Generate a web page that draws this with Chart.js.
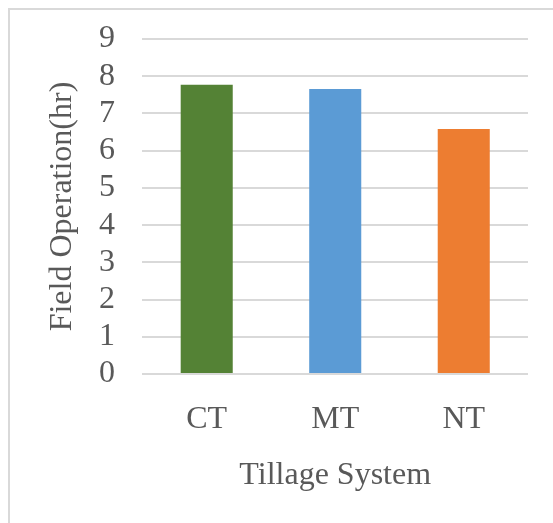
<!DOCTYPE html>
<html>
<head>
<meta charset="utf-8">
<script src="https://cdn.jsdelivr.net/npm/chart.js@4.4.0/dist/chart.umd.min.js"></script>
<style>
  html, body { margin: 0; padding: 0; background: #fff; }
  #frame {
    position: absolute; left: 8px; top: 8px;
    width: 560px; height: 530px;
    border: 2px solid #d9d9d9;
  }
  #wrap { position: absolute; left: 0; top: 0; width: 553px; height: 523px; }
</style>
</head>
<body>
<div id="frame"></div>
<div id="wrap"><canvas id="tillage"></canvas></div>
<script>
// field operation hours per tillage system
const systems = ["CT", "MT", "NT"];
const hours = [7.77, 7.66, 6.58];
const barColors = ["#548235", "#5B9BD5", "#ED7D31"];

const textColor = "#595959";
const serif = "'Liberation Serif', 'Times New Roman', serif";

new Chart("tillage", {
    type: "bar",
    data: {
        labels: systems,
        datasets: [{
            label: "Field Operation(hr)",
            data: hours,
            backgroundColor: barColors,
            barPercentage: 0.405,
            categoryPercentage: 1
        }]
    },
    options: {
        responsive: true,
        maintainAspectRatio: false,
        animation: false,
        layout: {
            padding: { left: 54.5, right: 25, top: 13, bottom: 37 }
        },
        plugins: {
            legend: { display: false },
            tooltip: { enabled: false }
        },
        scales: {
            x: {
                grid: { display: false, drawTicks: false },
                border: { display: false },
                ticks: {
                    color: textColor,
                    padding: 30,
                    font: { family: serif, size: 32, lineHeight: 1 }
                },
                title: {
                    display: true,
                    text: "Tillage System",
                    color: textColor,
                    padding: { top: 0, bottom: 0 },
                    font: { family: serif, size: 32, lineHeight: 0.625 }
                }
            },
            y: {
                min: 0,
                max: 9,
                ticks: {
                    stepSize: 1,
                    autoSkip: false,
                    color: textColor,
                    padding: 27.5,
                    // short line height keeps the top label from pushing the plot down
                    font: { family: serif, size: 32, lineHeight: 0.72 }
                },
                grid: {
                    color: "#d9d9d9",
                    lineWidth: 2,
                    drawTicks: false
                },
                border: { display: false },
                title: {
                    display: true,
                    text: "Field Operation(hr)",
                    color: textColor,
                    padding: { top: 0, bottom: 0 },
                    font: { family: serif, size: 32, lineHeight: 0.53 }
                }
            }
        }
    }
});
</script>
</body>
</html>
